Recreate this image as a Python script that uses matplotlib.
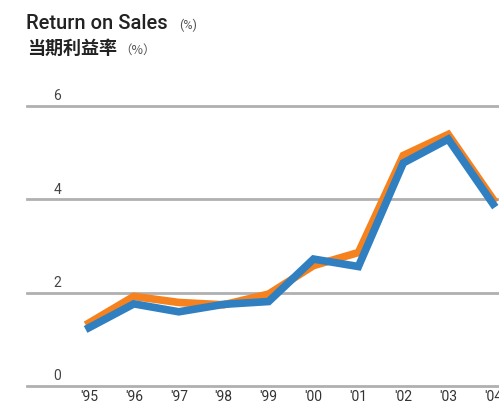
import matplotlib
matplotlib.use("Agg")
import matplotlib.pyplot as plt

years = ["'95", "'96", "'97", "'98", "'99", "'00", "'01", "'02", "'03", "'04"]
orange_vals = [1.35, 1.92, 1.79, 1.74, 1.97, 2.58, 2.86, 4.94, 5.39, 4.00]
blue_vals = [1.25, 1.76, 1.59, 1.75, 1.81, 2.72, 2.56, 4.78, 5.29, 3.90]
y_ticks = [0, 2, 4, 6]

plt.rcParams['font.family'] = ['Roboto', 'Noto Sans CJK SC', 'DejaVu Sans']

fig = plt.figure(figsize=(4.99, 4.05), dpi=100)
W, H = 499, 405
x0, x1 = 27, 499
y_top, y_bot = 106, 386
ax = fig.add_axes([x0 / W, 1 - y_bot / H, (x1 - x0) / W, (y_bot - y_top) / H])
ax.set_xlim((27 - 89) / 44.9, (499 - 89) / 44.9)
ax.set_ylim(0, 6)
for s in ax.spines.values():
    s.set_visible(False)
ax.set_xticks([])
ax.set_yticks([])
ax.patch.set_alpha(0)

for t in y_ticks:
    ax.axhline(t, color="#b0b0b0", lw=2, zorder=1, clip_on=False)
    ax.text(30.5 / (x1 - x0), t + 0.21, str(t), transform=ax.get_yaxis_transform(),
            ha="center", va="center", fontsize=10, color="#444444")

xs = list(range(len(years)))
ax.plot(xs, orange_vals, color="#F5821F", lw=5.5, solid_joinstyle="miter", zorder=3, clip_on=True)
ax.plot(xs, blue_vals, color="#2F7FC1", lw=5.5, solid_joinstyle="miter", zorder=4, clip_on=True)

for i, lab in enumerate(years):
    ax.text(i, -0.245, lab, ha="center", va="center", fontsize=10, color="#333333", clip_on=False)

fig.text(26 / W, 1 - 29 / H, "Return on Sales", fontsize=14.5, color="#222222",
         ha="left", va="baseline", fontweight="medium")
fig.text(179 / W, 1 - 29 / H, "(%)", fontsize=9, color="#555555", ha="left", va="baseline")
fig.text(27 / W, 1 - 54 / H, "当期利益率", fontsize=13, color="#222222", ha="left",
         va="baseline", fontweight="bold", family=['Noto Sans CJK SC', 'DejaVu Sans'])
fig.text(119 / W, 1 - 54 / H, "（%）", fontsize=9, color="#555555", ha="left",
         va="baseline", family=['Noto Sans CJK SC', 'DejaVu Sans'])

fig.savefig("out.png", dpi=100)
